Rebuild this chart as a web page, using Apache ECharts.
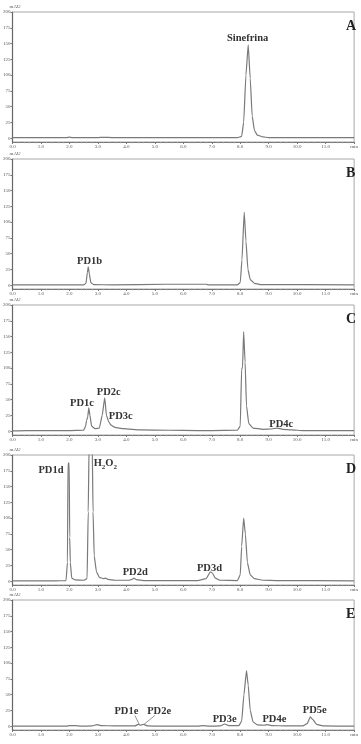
<!DOCTYPE html>
<html>
<head>
<meta charset="utf-8">
<script src="https://cdn.jsdelivr.net/npm/echarts@6/dist/echarts.min.js"></script>
<style>
html,body{margin:0;padding:0;background:#fff;}
#chart{width:361px;height:744px;}
</style>
</head>
<body>
<div id="chart"></div>
<script>
// ---- Data (retention time in min, absorbance in mAU) ----
const panelNames = ['A', 'B', 'C', 'D', 'E'];
const xTickLabels = ['0.0','1.0','2.0','3.0','4.0','5.0','6.0','7.0','8.0','9.0','10.0','11.0','min'];
const yTickValues = [0, 25, 50, 75, 100, 125, 150, 175, 200];

const traceA = [[0,1],[1.9,1],[2.0,1.8],[2.1,1],[3.0,1],[3.2,1.4],[3.5,1],[7.9,1],[8.05,3],[8.12,25],[8.2,100],[8.28,148],[8.35,95],[8.42,35],[8.5,12],[8.6,5],[8.8,2],[9.0,1],[12,1]];
const traceB = [[0,0.5],[2.5,0.5],[2.58,3],[2.63,20],[2.66,29],[2.7,18],[2.75,4],[2.85,1],[3.5,0.5],[5.4,1.5],[6.8,1.5],[6.9,0.5],[7.9,0.5],[8.0,4],[8.06,40],[8.14,116],[8.2,70],[8.27,25],[8.35,9],[8.5,3],[8.7,1],[12,0.5]];
const traceC = [[0,0.5],[0.5,1],[2.0,1],[2.5,1.5],[2.57,8],[2.6,17],[2.64,22],[2.68,37],[2.72,25],[2.78,8],[2.9,4],[3.05,5],[3.15,25],[3.24,53],[3.3,25],[3.38,15],[3.45,10],[3.6,6],[3.9,4],[4.5,2],[5.5,1.5],[6.5,1],[7.0,1],[7.9,1.5],[8.0,8],[8.05,100],[8.08,100],[8.12,158],[8.17,110],[8.22,40],[8.3,12],[8.45,5],[8.8,3],[9.1,3.5],[9.3,5],[9.5,3],[9.8,2],[10.2,1],[12,1]];
const traceD = [[0,0.5],[1.5,0.5],[1.88,1],[1.93,30],[1.95,187],[1.99,187],[2.01,70],[2.03,30],[2.08,5],[2.2,2],[2.5,1.5],[2.62,4],[2.66,110],[2.69,215],[2.8,215],[2.83,110],[2.87,40],[2.95,15],[3.05,6],[3.2,4],[3.27,5],[3.35,3],[3.6,1.5],[4.1,1.5],[4.2,3],[4.27,5],[4.35,2.5],[4.6,1],[6.5,1],[6.8,4],[6.95,15],[7.02,13],[7.12,5],[7.3,1.5],[7.9,1],[8.0,10],[8.05,55],[8.12,100],[8.18,75],[8.25,30],[8.35,10],[8.5,4],[8.8,1.5],[9.3,1],[12,0.5]];
const traceE = [[0,0],[1.9,0],[2.0,1],[2.2,1],[2.4,0],[2.8,0.5],[2.97,2.5],[3.1,1],[3.6,0.5],[4.3,0.5],[4.42,3],[4.5,1.5],[4.6,3],[4.75,0.5],[5.2,0],[6.5,0],[6.7,1],[6.9,0],[7.3,0.5],[7.45,3.5],[7.6,1],[7.95,1],[8.05,8],[8.13,50],[8.22,88],[8.28,65],[8.35,25],[8.45,7],[8.6,2],[8.85,1.5],[8.95,2.5],[9.1,1],[9.6,0.5],[10.2,0.5],[10.35,4],[10.46,15],[10.56,10],[10.68,3],[10.9,0.5],[12,0]];

// peak annotations: text, anchor retention time, anchor mAU
const peakLabelsA = [['Sinefrina', 8.26, 159]];
const peakLabelsB = [['PD1b', 2.71, 38]];
const peakLabelsC = [['PD1c', 2.44, 45], ['PD2c', 3.38, 61], ['PD3c', 3.80, 23], ['PD4c', 9.44, 10.5]];
const peakLabelsD = [['PD1d', 1.35, 175], ['H2O2', 3.26, 187], ['PD2d', 4.31, 14], ['PD3d', 6.92, 20]];
const peakLabelsE = [['PD1e', 4.0, 23], ['PD2e', 5.15, 23], ['PD3e', 7.45, 11], ['PD4e', 9.2, 11], ['PD5e', 10.62, 25]];
// leader lines in panel E: [from, to] in data units
const leadersE = [[[4.3, 17], [4.45, 3]], [[5.0, 17], [4.62, 3]]];

const traces = [traceA, traceB, traceC, traceD, traceE];
const peakLabels = [peakLabelsA, peakLabelsB, peakLabelsC, peakLabelsD, peakLabelsE];
const leaders = [[], [], [], [], leadersE];

// ---- Layout ----
const gridTops = [12, 159, 305, 455, 600];
const gridH = 130;
const serif = '"Liberation Serif","DejaVu Serif",serif';

const grids = [], xAxes = [], yAxes = [], series = [], titles = [];
gridTops.forEach((t, i) => {
  grids.push({ left: 12, right: 6, top: t, height: gridH, show: true, borderColor: '#a8a8a8', borderWidth: 1, backgroundColor: 'transparent' });
  xAxes.push({
    type: 'value', gridIndex: i, min: 0, max: 12, interval: 1,
    axisLine: { show: true, onZero: false, lineStyle: { color: '#777', width: 1 } },
    axisTick: { show: true, length: 2, lineStyle: { color: '#777' } },
    minorTick: { show: true, splitNumber: 5, length: 1.2, lineStyle: { color: '#999' } },
    splitLine: { show: false },
    axisLabel: { fontSize: 5, color: '#555', margin: 2, fontFamily: serif,
      formatter: v => xTickLabels[Math.round(v)] }
  });
  yAxes.push({
    type: 'value', gridIndex: i, min: -6, max: 200,
    name: 'mAU', nameLocation: 'end', nameGap: 1,
    nameTextStyle: { fontSize: 5, color: '#555', fontFamily: serif, align: 'left', padding: [0, 0, 0, -3] },
    axisLine: { show: true, lineStyle: { color: '#666', width: 1.2 } },
    axisTick: { show: true, length: 2, customValues: yTickValues, lineStyle: { color: '#777' } },
    splitLine: { show: false },
    axisLabel: { fontSize: 5, color: '#555', margin: 2, fontFamily: serif, customValues: yTickValues }
  });
  titles.push({ text: panelNames[i], left: 341, top: t + 2,
    textStyle: { fontSize: 14, fontWeight: 'bold', color: '#222', fontFamily: serif } });
  series.push({
    type: 'line', xAxisIndex: i, yAxisIndex: i, data: traces[i],
    showSymbol: false, symbol: 'none', clip: true, silent: true,
    smooth: 0.15, smoothMonotone: 'x',
    lineStyle: { color: '#7a7a7a', width: 1.2 },
    markPoint: {
      symbol: 'circle', symbolSize: 1, itemStyle: { color: 'rgba(0,0,0,0)' }, silent: true,
      label: { show: true, position: 'inside', color: '#333', fontFamily: serif, fontWeight: 'bold', fontSize: 10.5,
        formatter: p => p.name === 'H2O2' ? '{n|H}{s|2}{n|O}{s|2}' : p.name,
        rich: {
          n: { fontSize: 10.5, fontWeight: 'bold', fontFamily: serif, color: '#333' },
          s: { fontSize: 7, fontWeight: 'bold', fontFamily: serif, color: '#333', padding: [7, 0, 0, 0] }
        } },
      data: peakLabels[i].map(d => ({ name: d[0], coord: [d[1], d[2]] }))
    },
    markLine: leaders[i].length ? {
      symbol: ['none', 'none'], silent: true, label: { show: false },
      lineStyle: { color: '#777', width: 0.8, type: 'solid' },
      data: leaders[i].map(l => [{ coord: l[0] }, { coord: l[1] }])
    } : undefined
  });
});

const chart = echarts.init(document.getElementById('chart'), null, { renderer: 'canvas' });
chart.setOption({
  animation: false,
  backgroundColor: '#fff',
  title: titles,
  grid: grids,
  xAxis: xAxes,
  yAxis: yAxes,
  series: series
});
</script>
</body>
</html>
